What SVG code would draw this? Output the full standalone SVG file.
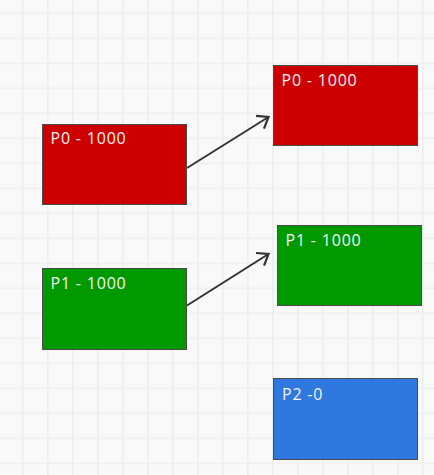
<svg xmlns="http://www.w3.org/2000/svg" width="434" height="475" viewBox="0 0 434 475">
  <style>
    .box { stroke: #4a4a4a; stroke-width: 1; }
    .red { fill: #cc0000; }
    .green { fill: #009900; }
    .blue { fill: #2f78e0; }
    .label { font-family: "Open Sans", "Noto Sans", sans-serif; font-size: 16px; letter-spacing: 0.8px; fill: #f4f4f4; }
    .edge { fill: none; stroke: #333333; stroke-width: 2; }
  </style>
  <defs>
    <pattern id="grid" patternUnits="userSpaceOnUse" x="22" y="12.5" width="25" height="25">
      <rect x="0" y="0" width="25" height="25" fill="#f9f9f9"/>
      <rect x="0" y="0" width="1.6" height="25" fill="#eeeeee"/>
      <rect x="0" y="0" width="25" height="1.6" fill="#eeeeee"/>
    </pattern>
    <marker id="open-arrow" markerUnits="userSpaceOnUse" markerWidth="24" markerHeight="24" viewBox="-14 -12 20 24" refX="0" refY="0" orient="auto">
      <path d="M-10,-7.5 L0,0 L-10,7.5" fill="none" stroke="#333333" stroke-width="2.2" stroke-linejoin="miter"/>
    </marker>
  </defs>

  <rect width="434" height="475" fill="url(#grid)"/>

  <g id="connectors">
    <line class="edge" x1="187" y1="168" x2="268.5" y2="117" marker-end="url(#open-arrow)"/>
    <line class="edge" x1="187" y1="305.5" x2="268.5" y2="254" marker-end="url(#open-arrow)"/>
  </g>

  <g id="src-p0">
    <rect class="box red" x="42.5" y="124.5" width="144" height="80"/>
    <text class="label" x="50.5" y="144">P0 - 1000</text>
  </g>
  <g id="src-p1">
    <rect class="box green" x="42.5" y="268.5" width="144" height="81"/>
    <text class="label" x="50.5" y="289">P1 - 1000</text>
  </g>
  <g id="dst-p0">
    <rect class="box red" x="273.5" y="65.5" width="144" height="80"/>
    <text class="label" x="281.5" y="86">P0 - 1000</text>
  </g>
  <g id="dst-p1">
    <rect class="box green" x="277.5" y="225.5" width="144" height="80"/>
    <text class="label" x="285.5" y="245.5">P1 - 1000</text>
  </g>
  <g id="dst-p2">
    <rect class="box blue" x="273.5" y="378.5" width="144" height="81"/>
    <text class="label" x="282" y="399.5">P2 -0</text>
  </g>
</svg>
